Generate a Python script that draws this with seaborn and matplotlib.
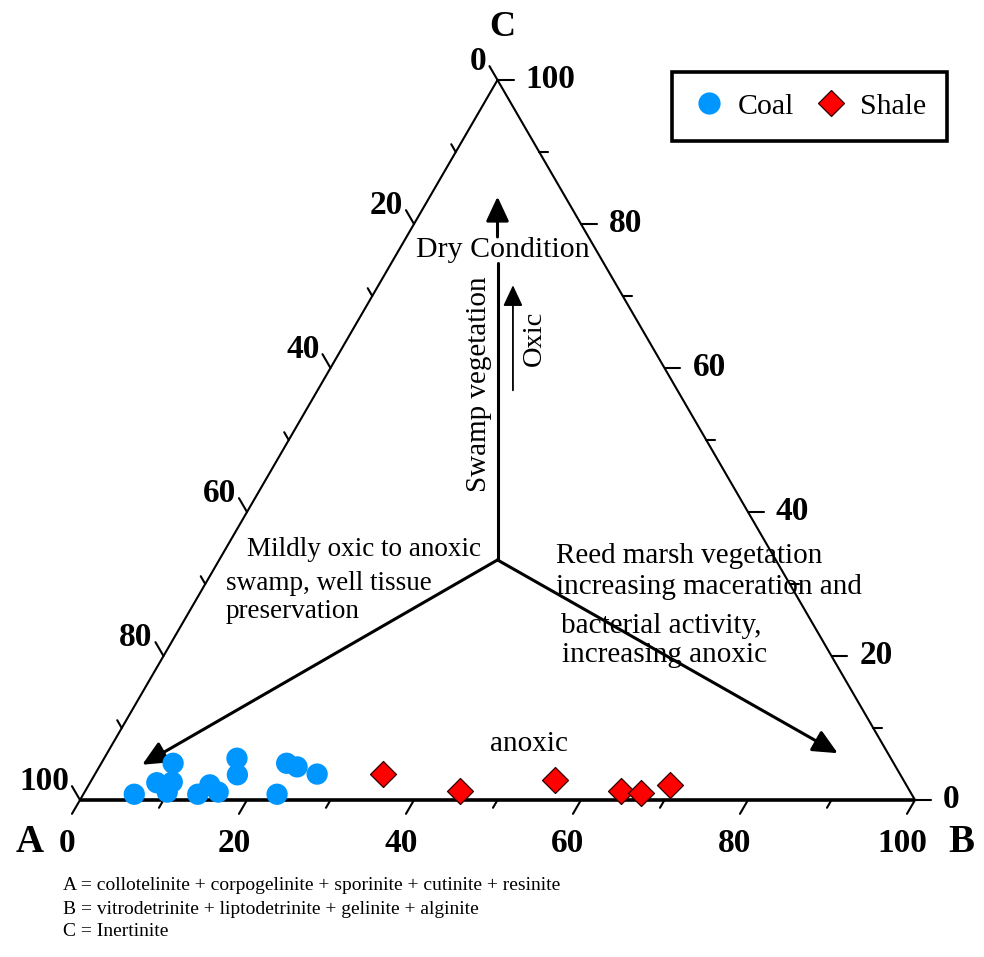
import numpy as np
import pandas as pd
import matplotlib
matplotlib.use("Agg")
import matplotlib.pyplot as plt
import seaborn as sns
from matplotlib.lines import Line2D

# ---------------- data (ternary percentages A, B, C) ----------------
coal_A = [93.1, 89.6, 86.3, 87.7, 89.0, 85.5, 83.4, 82.9, 78.3, 79.4, 76.0, 72.7, 71.7, 69.8]
coal_B = [6.1, 8.0, 8.6, 9.8, 9.9, 13.7, 14.5, 16.0, 15.9, 17.1, 23.2, 22.2, 23.7, 26.6]
coal_C = [0.8, 2.4, 5.1, 2.5, 1.1, 0.8, 2.1, 1.1, 5.8, 3.5, 0.8, 5.1, 4.6, 3.6]

shale_A = [61.9, 53.85, 41.7, 34.55, 32.3, 28.3]
shale_B = [34.5, 44.9, 55.5, 64.2, 66.7, 69.6]
shale_C = [3.6, 1.25, 2.8, 1.25, 1.0, 2.1]

tick_values = [0, 10, 20, 30, 40, 50, 60, 70, 80, 90, 100]
tick_labels = ["0", "", "20", "", "40", "", "60", "", "80", "", "100"]

# ---------------- setup ----------------
sns.set_theme(style="white")
plt.rcParams["font.family"] = ["Liberation Serif", "DejaVu Serif"]
plt.rcParams["text.color"] = "black"

W, H = 984, 957
fig = plt.figure(figsize=(W / 100, H / 100), dpi=100)
ax = fig.add_axes([0, 0, 1, 1])
ax.set_axis_off()

SX, SY = 8.35, 7.2   # px per unit
OX, OY = 80, 800     # pixel of A vertex
ax.set_xlim((0 - OX) / SX, (W - OX) / SX)
ax.set_ylim((OY - H) / SY, OY / SY)


def tern(a, b, c):
    a, b, c = np.asarray(a, float), np.asarray(b, float), np.asarray(c, float)
    s = a + b + c
    bb, cc = b / s * 100, c / s * 100
    return bb + cc / 2, cc


def d(dpx, dpy):
    return dpx / SX, -dpy / SY


def to_px(x, y):
    return OX + x * SX, OY - y * SY


def ftxt(xp, yp, s, **kw):
    kw.setdefault("color", "black")
    fig.text(xp / W, 1 - yp / H, s, **kw)


# ---------------- triangle ----------------
Ax, Ay = tern(100, 0, 0)
Bx, By = tern(0, 100, 0)
Cx, Cy = tern(0, 0, 100)
ax.plot([Ax, Bx], [Ay, By], color="black", lw=2.6, solid_capstyle="butt", zorder=3)
ax.plot([Bx, Cx], [By, Cy], color="black", lw=1.5, zorder=3)
ax.plot([Cx, Ax], [Cy, Ay], color="black", lw=1.5, zorder=3)

# ---------------- ticks ----------------
tick_kw = dict(fontsize=24, fontweight="bold")
for v, lab in zip(tick_values, tick_labels):
    L = 16 if lab else 9
    x0, y0 = tern(100 - v, v, 0)
    dx, dy = d(-0.502 * L, 0.865 * L)
    ax.plot([x0, x0 + dx], [y0, y0 + dy], color="black", lw=1.5, zorder=3)
    if lab:
        px, py = to_px(x0, y0)
        ftxt(px - 13, py + 43, lab, ha="center", va="center", **tick_kw)
    x0, y0 = tern(v, 0, 100 - v)
    dx, dy = d(-0.502 * L, -0.865 * L)
    ax.plot([x0, x0 + dx], [y0, y0 + dy], color="black", lw=1.5, zorder=3)
    if lab:
        px, py = to_px(x0, y0)
        ftxt(px - 11, py - 19, lab, ha="right", va="center", **tick_kw)
    x0, y0 = tern(0, 100 - v, v)
    dx, dy = d(L, 0)
    ax.plot([x0, x0 + dx], [y0, y0 + dy], color="black", lw=1.5, zorder=3)
    if lab:
        px, py = to_px(x0, y0)
        ftxt(px + 28, py, lab, ha="left", va="center", **tick_kw)

ftxt(502, 28, "C", ha="center", va="center", fontsize=26, fontweight="bold")
ftxt(30, 843, "A", ha="center", va="center", fontsize=28, fontweight="bold")
ftxt(961, 843, "B", ha="center", va="center", fontsize=28, fontweight="bold")

# ---------------- interpretive arrows ----------------
center = tern(33.33, 33.33, 33.34)
gap_low = tern(12.7, 12.7, 74.6)     # vertical line stops below "Dry Condition"
gap_high = tern(10.9, 10.9, 78.2)    # arrow resumes above it
tip_up = tern(8.1, 8.1, 83.8)
tip_ll = tern(90.1, 5.0, 4.9)
tip_lr = tern(6.0, 87.5, 6.5)
oxic_start = tern(19.7, 23.4, 56.9)
oxic_tip = tern(12.4, 16.1, 71.5)

arrow_main = dict(arrowstyle="-|>,head_length=0.75,head_width=0.35", color="black",
                  lw=2.2, mutation_scale=20, shrinkA=0, shrinkB=0)
ax.plot([center[0], gap_low[0]], [center[1], gap_low[1]], color="black", lw=2.2, zorder=2)
ax.annotate("", xy=tip_up, xytext=gap_high, arrowprops=arrow_main, zorder=2)
for tip in (tip_ll, tip_lr):
    ax.annotate("", xy=tip, xytext=center, arrowprops=arrow_main, zorder=2)
ax.annotate("", xy=oxic_tip, xytext=oxic_start,
            arrowprops=dict(arrowstyle="-|>,head_length=0.75,head_width=0.35", color="black",
                            lw=1.3, mutation_scale=17, shrinkA=0, shrinkB=0), zorder=2)

# ---------------- annotations ----------------
ftxt(503, 250, "Dry Condition", ha="center", va="center", fontsize=21.5)
ftxt(479, 384, "Swamp vegetation", ha="center", va="center", rotation=90, fontsize=21)
ftxt(534, 338, "Oxic", ha="center", va="center", rotation=90, fontsize=20.5)

ftxt(247, 550, "Mildly oxic to anoxic", ha="left", va="center", fontsize=19.5)
ftxt(226, 583, "swamp, well tissue", ha="left", va="center", fontsize=19.5)
ftxt(226, 611, "preservation", ha="left", va="center", fontsize=19.5)

ftxt(556, 556, "Reed marsh vegetation", ha="left", va="center", fontsize=21)
ftxt(556, 587, "increasing maceration and", ha="left", va="center", fontsize=21)
ftxt(561, 626, "bacterial activity,", ha="left", va="center", fontsize=21)
ftxt(562, 655, "increasing anoxic", ha="left", va="center", fontsize=21)

ftxt(529, 744, "anoxic", ha="center", va="center", fontsize=21)

ftxt(63, 886, "A = collotelinite + corpogelinite + sporinite + cutinite + resinite",
     ha="left", va="center", fontsize=14)
ftxt(63, 909, "B = vitrodetrinite + liptodetrinite + gelinite + alginite",
     ha="left", va="center", fontsize=14)
ftxt(63, 932, "C = Inertinite", ha="left", va="center", fontsize=14)

# ---------------- data points ----------------
cx, cy = tern(coal_A, coal_B, coal_C)
sx, sy = tern(shale_A, shale_B, shale_C)
coal_df = pd.DataFrame({"x": cx, "y": cy, "type": "Coal"})
shale_df = pd.DataFrame({"x": sx, "y": sy, "type": "Shale"})

sns.scatterplot(data=coal_df, x="x", y="y", marker="o", s=235, color="#0096FF",
                edgecolor="none", linewidth=0, ax=ax, zorder=4, legend=False)
sns.scatterplot(data=shale_df, x="x", y="y", marker="D", s=175, color="#FF0000",
                edgecolor="#300000", linewidth=0.9, ax=ax, zorder=4, legend=False)

handles = [
    Line2D([], [], marker="o", ls="none", markersize=16, markerfacecolor="#0096FF",
           markeredgecolor="none"),
    Line2D([], [], marker="D", ls="none", markersize=13.5, markerfacecolor="#FF0000",
           markeredgecolor="#300000", markeredgewidth=0.9),
]
leg = ax.legend(handles, ["Coal", "Shale"], ncol=2, loc="upper left",
                bbox_to_anchor=(672 / W, 1 - 72 / H), bbox_transform=fig.transFigure,
                frameon=True, fancybox=False, fontsize=21.5, borderpad=0.7,
                handletextpad=0.4, columnspacing=0.7, handlelength=1.1,
                borderaxespad=0)
for t in leg.get_texts():
    t.set_color("black")
leg.get_frame().set_edgecolor("black")
leg.get_frame().set_linewidth(2.6)
leg.get_frame().set_alpha(1)

fig.savefig("out.png", dpi=100, facecolor="white")
